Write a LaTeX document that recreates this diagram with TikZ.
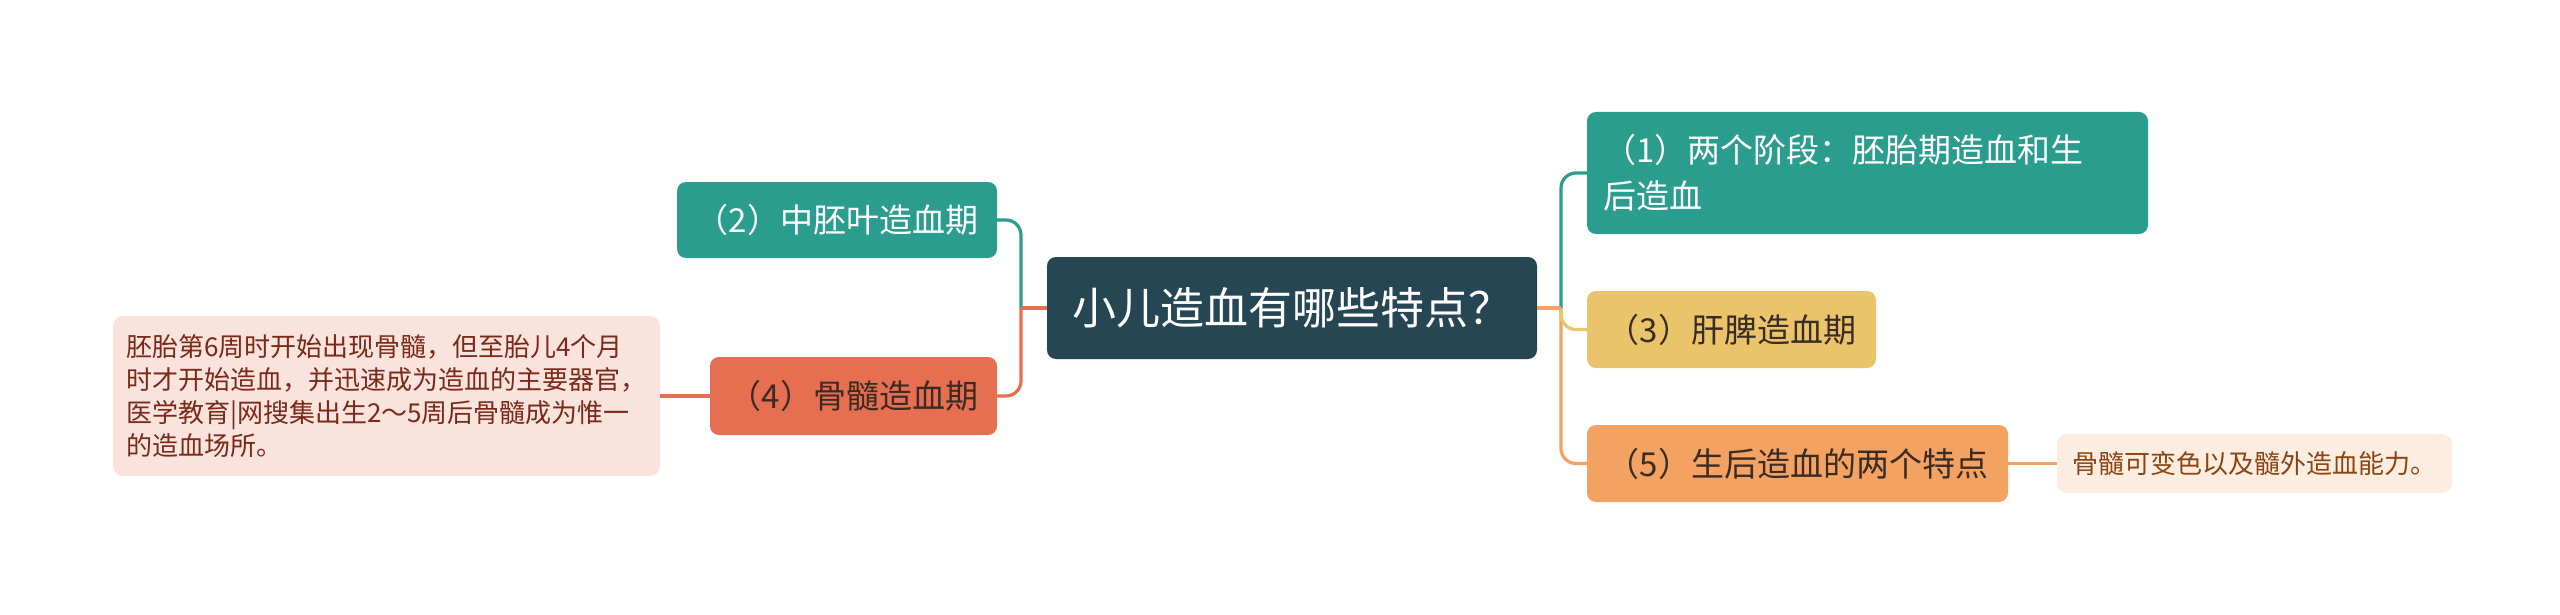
\documentclass[tikz,border=0pt]{standalone}
\usepackage{fontspec}
\setmainfont{Noto Sans CJK SC}
\definecolor{cdark}{HTML}{264653}
\definecolor{cteal}{HTML}{2A9D8F}
\definecolor{cyellow}{HTML}{E9C46A}
\definecolor{corange}{HTML}{F4A261}
\definecolor{ccoral}{HTML}{E76F51}
\definecolor{cnoteL}{HTML}{FAE3DC}
\definecolor{cnoteR}{HTML}{FDEDE1}
\definecolor{ctxtdark}{HTML}{3A2C24}
\definecolor{ctxtL}{HTML}{7A2A18}
\definecolor{ctxtR}{HTML}{8B4512}
\tikzset{
  topic/.style={rounded corners=9pt, inner sep=0pt, font=\fontsize{33}{46}\selectfont},
  notebox/.style={rounded corners=10pt, inner sep=0pt, font=\fontsize{26}{33}\selectfont},
  link/.style={line width=3.2pt, rounded corners=15pt},
}
\begin{document}
\begin{tikzpicture}[x=1pt,y=-1pt]
\useasboundingbox (0,0) rectangle (2560,615);
\fill[white] (0,0) rectangle (2560,615);
% central
\node[rounded corners=9pt, inner sep=0pt, fill=cdark, text=white, minimum width=490pt, minimum height=102pt,
      font=\fontsize{44}{52}\selectfont] (c) at (1292,308) {小儿造血有哪些特点？};
% left
\node[topic, fill=cteal, text=white, minimum width=320pt, minimum height=76pt] (n2) at (837,220) {（2）中胚叶造血期};
\node[topic, fill=ccoral, text=ctxtdark, minimum width=287pt, minimum height=78pt] (n4) at (853.5,396) {（4）骨髓造血期};
\node[notebox, fill=cnoteL, text=ctxtL, minimum width=547pt, minimum height=160pt, text width=521pt, align=left] (m4) at (386.5,396)
  {胚胎第6周时开始出现骨髓，但至胎儿4个月\\时才开始造血，并迅速成为造血的主要器官，\\医学教育|网搜集出生2～5周后骨髓成为惟一\\的造血场所。};
% right
\node[topic, fill=cteal, text=white, minimum width=561pt, minimum height=122pt, text width=529pt, align=left] (n1) at (1867.5,173)
  {（1）两个阶段：胚胎期造血和生\\后造血};
\node[topic, fill=cyellow, text=ctxtdark, minimum width=289pt, minimum height=77pt] (n3) at (1731.5,329.5) {（3）肝脾造血期};
\node[topic, fill=corange, text=ctxtdark, minimum width=421pt, minimum height=77pt] (n5) at (1797.5,463.5) {（5）生后造血的两个特点};
\node[notebox, fill=cnoteR, text=ctxtR, minimum width=395pt, minimum height=59pt] (m5) at (2254.5,463.5) {骨髓可变色以及髓外造血能力。};
% junctions
\coordinate (jl) at (1021,308);
\coordinate (jr) at (1561,308);
% left connectors
\draw[link, cteal] (jl) |- (n2.east);
\draw[link, ccoral] (jl) |- (n4.east);
\draw[link, ccoral] (c.west) -- (jl);
\draw[link, ccoral] (n4.west) -- (m4.east);
% right connectors
\draw[link, corange] (jr) |- (n5.west);
\draw[link, cyellow] (jr) |- (n3.west);
\draw[link, cteal] (jr) |- (n1.west);
\draw[link, corange] (c.east) -- (jr);
\draw[link, corange] (n5.east) -- (m5.west);
\end{tikzpicture}
\end{document}
